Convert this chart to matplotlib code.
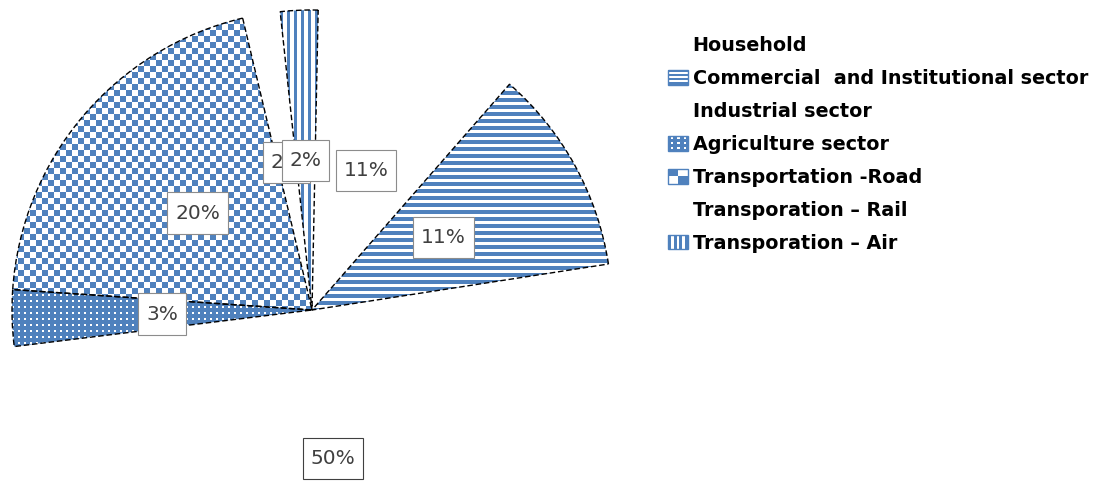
import numpy as np
import matplotlib
matplotlib.use("Agg")
import matplotlib.pyplot as plt
from matplotlib.patches import Rectangle
from matplotlib.path import Path
from matplotlib.legend_handler import HandlerBase

# energy use share by sector (legend order)
sectors = ['Household', 'Commercial  and Institutional sector', 'Industrial sector',
           'Agriculture sector', 'Transportation -Road', 'Transporation \u2013 Rail',
           'Transporation \u2013 Air']
shares = [50, 11, 11, 3, 20, 2, 2]
fills = ['none', 'hstripe', 'none', 'dots', 'checker', 'none', 'vstripe']
# order the slices go round the pie (counter-clockwise)
draw_order = [0, 1, 2, 6, 5, 4, 3]

BLUE = '#4F81BD'
W, H = 1096, 487
CX, CY, R = 312, 310, 300   # pie centre / radius in pixels

fig = plt.figure(figsize=(W / 100, H / 100), dpi=100)
ax = fig.add_axes([0, 0, 1, 1])

vals = [shares[i] for i in draw_order]
total = sum(shares)
wedges, _, autotexts = ax.pie(
    vals, startangle=187, counterclock=True, radius=1,
    autopct=lambda p: f'{p * total / 100:.0f}%', pctdistance=0.5,
    textprops=dict(fontsize=14.5, color='#404040'),
    wedgeprops=dict(facecolor='none', linewidth=0))

xl = (-CX / R, (W - CX) / R)
yl = ((CY - H) / R, CY / R)

# textures
yy, xx = np.mgrid[0:H, 0:W]
rgb = np.array(matplotlib.colors.to_rgb(BLUE))


def texture(mask):
    arr = np.ones((H, W, 3))
    arr[mask] = rgb
    return arr


masks = {
    'hstripe': (yy % 7) < 4,
    'vstripe': (xx % 7) < 3,
    'checker': ((xx // 6 + yy // 6) % 2) == 0,
    'dots': ~(((xx % 6) < 2) & ((yy % 6) < 2)),
}

for w, idx in zip(wedges, draw_order):
    kind = fills[idx]
    if kind == 'none':
        continue
    im = ax.imshow(texture(masks[kind]), extent=(xl[0], xl[1], yl[0], yl[1]),
                   origin='upper', interpolation='nearest', zorder=1)
    im.set_clip_path(w)
    w.set_edgecolor('black')
    w.set_linewidth(1)
    w.set_linestyle((0, (4, 2)))
    w.set_zorder(2)


def label_box(x0, y0, width, height, mutation_size):
    px, py = 0.38 * mutation_size, 0.55 * mutation_size
    return Path([(x0 - px, y0 - py), (x0 + width + px, y0 - py),
                 (x0 + width + px, y0 + height + py), (x0 - px, y0 + height + py),
                 (x0 - px, y0 - py)], closed=True)


for t, idx in zip(autotexts, draw_order):
    ec = '#404040' if idx == 0 else '#8c8c8c'
    t.set_bbox(dict(boxstyle=label_box, facecolor='white', edgecolor=ec, linewidth=0.8))
    t.set_zorder(4)
autotexts[draw_order.index(6)].set_zorder(5)

ax.set_xlim(*xl)
ax.set_ylim(*yl)
ax.set_aspect('auto')
ax.axis('off')


class Swatch(HandlerBase):
    def __init__(self, kind):
        super().__init__()
        self.kind = kind

    def create_artists(self, legend, orig_handle, xdescent, ydescent,
                       width, height, fontsize, trans):
        x0, y0 = -xdescent, -ydescent
        out = []
        if self.kind == 'none':
            return [Rectangle((x0, y0), width, height, fill=False, lw=0, transform=trans)]
        bg = BLUE if self.kind == 'dots' else 'white'
        out.append(Rectangle((x0, y0), width, height, facecolor=bg, edgecolor='none', transform=trans))
        if self.kind == 'hstripe':
            for k in range(4):
                out.append(Rectangle((x0, y0 + k * height / 3.5), width, height / 7,
                                     facecolor=BLUE, lw=0, transform=trans))
        elif self.kind == 'vstripe':
            for k in range(4):
                out.append(Rectangle((x0 + k * width / 3.5, y0), width / 7, height,
                                     facecolor=BLUE, lw=0, transform=trans))
        elif self.kind == 'checker':
            out.append(Rectangle((x0, y0 + height / 2), width / 2, height / 2,
                                 facecolor=BLUE, lw=0, transform=trans))
            out.append(Rectangle((x0 + width / 2, y0), width / 2, height / 2,
                                 facecolor=BLUE, lw=0, transform=trans))
        elif self.kind == 'dots':
            for i in range(3):
                for j in range(3):
                    out.append(Rectangle((x0 + (i + 0.4) * width / 3, y0 + (j + 0.4) * height / 3),
                                         width / 9, height / 9, facecolor='white', lw=0,
                                         transform=trans))
        out.append(Rectangle((x0, y0), width, height, fill=False, edgecolor=BLUE,
                             lw=1, transform=trans))
        return out


handles = [wedges[draw_order.index(i)] for i in range(len(sectors))]
hmap = {h: Swatch(fills[i]) for i, h in enumerate(handles)}
fig.legend(handles, sectors, handler_map=hmap, loc='upper left',
           bbox_to_anchor=(668 / W, 1 - 36 / H), frameon=False,
           prop=dict(size=13.8, weight='bold'), handlelength=1.04, handleheight=0.78,
           handletextpad=0.25, labelspacing=0.73, borderpad=0, borderaxespad=0)

fig.savefig('out.png', dpi=100)
